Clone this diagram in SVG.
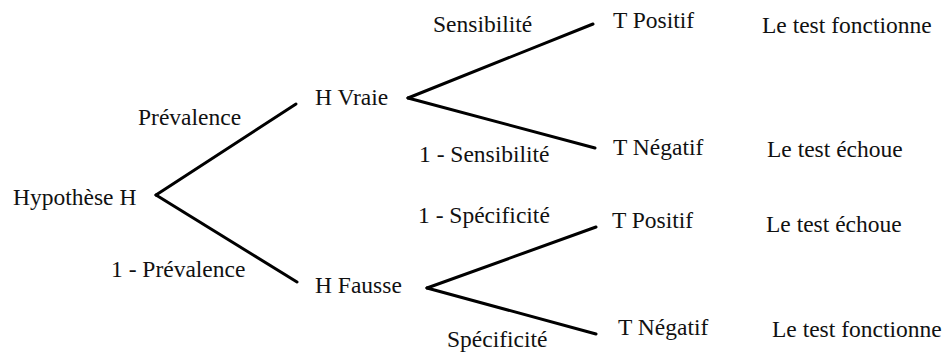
<svg xmlns="http://www.w3.org/2000/svg" width="946" height="354" viewBox="0 0 946 354">
<style>
text{font-family:'Liberation Serif',serif;font-size:23.5px;fill:#111}
.c line{stroke:#000;stroke-width:3;stroke-linecap:round}
</style>
<rect width="946" height="354" fill="#fff"/>
<g class="c" id="connectors">
<line x1="156" y1="195" x2="296" y2="104"/>
<line x1="156" y1="195" x2="297" y2="282"/>
<line x1="408" y1="98" x2="593" y2="24"/>
<line x1="408" y1="98" x2="595" y2="148"/>
<line x1="427" y1="288" x2="596" y2="227"/>
<line x1="427" y1="288" x2="596" y2="334"/>
</g>
<g id="edge-labels">
<text x="138" y="125">Prévalence</text>
<text x="111" y="277">1 - Prévalence</text>
<text x="433" y="32">Sensibilité</text>
<text x="419" y="162">1 - Sensibilité</text>
<text x="418" y="223">1 - Spécificité</text>
<text x="447" y="347">Spécificité</text>
</g>
<g id="root"><text x="13" y="205">Hypothèse H</text></g>
<g id="h-vraie"><text x="315" y="105">H Vraie</text></g>
<g id="h-fausse"><text x="315" y="293">H Fausse</text></g>
<g id="vp"><text x="613" y="28">T Positif</text><text x="762" y="33">Le test fonctionne</text></g>
<g id="fn"><text x="613" y="155">T Négatif</text><text x="767" y="157">Le test échoue</text></g>
<g id="fp"><text x="612" y="228">T Positif</text><text x="766" y="232">Le test échoue</text></g>
<g id="vn"><text x="618" y="335">T Négatif</text><text x="772" y="337">Le test fonctionne</text></g>
</svg>
